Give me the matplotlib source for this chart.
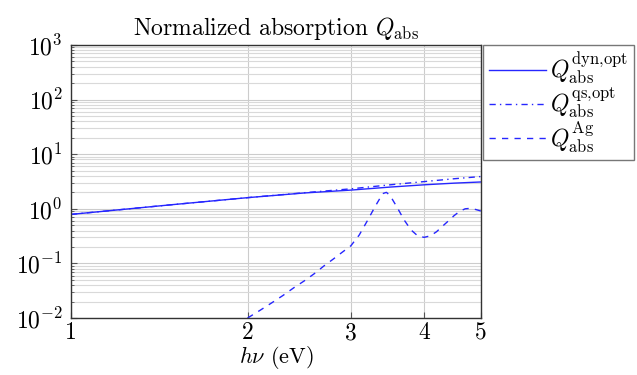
import numpy as np
import matplotlib
matplotlib.use("Agg")
import matplotlib.pyplot as plt
from matplotlib.ticker import LogLocator, FixedLocator, FixedFormatter, NullLocator, NullFormatter

plt.rcParams['font.family'] = ['cmr10', 'DejaVu Serif']
plt.rcParams['mathtext.fontset'] = 'cm'
plt.rcParams['axes.formatter.use_mathtext'] = True

# Photon energy (eV) and curves
e_dyn = [1.0, 1.5, 2.0, 2.5, 3.0, 3.5, 4.0, 4.5, 5.0]
q_dyn = [0.79, 1.2, 1.6, 1.95, 2.2, 2.5, 2.75, 2.95, 3.1]

e_qs = [1.0, 1.5, 2.0, 2.5, 3.0, 3.5, 4.0, 4.5, 5.0]
q_qs = [0.79, 1.2, 1.6, 1.97, 2.32, 2.75, 3.15, 3.55, 3.9]

e_ag = [2.0, 2.1, 2.2, 2.3, 2.4, 2.5, 2.6, 2.7, 2.8, 2.9, 3.0, 3.1, 3.2, 3.3,
        3.4, 3.45, 3.5, 3.6, 3.7, 3.8, 3.9, 4.0, 4.1, 4.2, 4.3, 4.4, 4.5, 4.6,
        4.7, 4.8, 4.9, 5.0]
q_ag = [0.010, 0.0138, 0.019, 0.026, 0.036, 0.048, 0.065, 0.09, 0.12, 0.16,
        0.21, 0.33, 0.6, 1.1, 1.9, 2.0, 1.75, 1.05, 0.62, 0.41, 0.32, 0.30,
        0.32, 0.38, 0.48, 0.6, 0.75, 0.9, 1.0, 1.02, 0.97, 0.91]

xticks = [1, 2, 3, 4, 5]
xticklabels = ['1', '2', '3', '4', '5']

labels = [r'$Q_{\mathrm{abs}}^{\mathrm{dyn}{,}\mathrm{opt}}$',
          r'$Q_{\mathrm{abs}}^{\mathrm{qs}{,}\mathrm{opt}}$',
          r'$Q_{\mathrm{abs}}^{\mathrm{Ag}}$']

fig = plt.figure(figsize=(6.37, 3.75), dpi=100)
ax = fig.add_axes([0.1115, 0.152, 0.6435, 0.728])

col = (0.15, 0.15, 1.0)
ax.plot(e_dyn, q_dyn, '-', color=col, lw=1.0, label=labels[0])
ax.plot(e_qs, q_qs, color=col, lw=1.0, dashes=(4.5, 3, 1, 3), label=labels[1])
ax.plot(e_ag, q_ag, color=col, lw=1.0, dashes=(4.5, 4.5), label=labels[2])

ax.set_xscale('log')
ax.set_yscale('log')
ax.set_xlim(1, 5)
ax.set_ylim(1e-2, 1e3)

ax.xaxis.set_major_locator(FixedLocator(xticks))
ax.xaxis.set_major_formatter(FixedFormatter(xticklabels))
ax.xaxis.set_minor_locator(NullLocator())
ax.xaxis.set_minor_formatter(NullFormatter())

ax.yaxis.set_major_locator(LogLocator(base=10, numticks=10))
ax.yaxis.set_minor_locator(LogLocator(base=10, subs=np.arange(2, 10), numticks=20))
ax.yaxis.set_minor_formatter(NullFormatter())

ax.grid(True, which='major', color='#cccccc', lw=0.8)
ax.grid(True, which='minor', axis='y', color='#d9d9d9', lw=0.8)
ax.set_axisbelow(True)

ax.tick_params(which='both', direction='in', labelsize=17, color='#555555')
ax.tick_params(which='major', length=4, pad=6)
ax.tick_params(axis='x', which='major', pad=3)
ax.tick_params(which='minor', length=2)
for s in ax.spines.values():
    s.set_color('#333333')
    s.set_linewidth(1.0)

ax.set_title(r'Normalized absorption $Q_{\mathrm{abs}}$', fontsize=17, pad=7)
ax.set_xlabel(r'$h\nu$ (eV)', fontsize=16, labelpad=0)

leg = ax.legend(loc='upper left', bbox_to_anchor=(1.006, 1.0), borderaxespad=0,
                fontsize=17, fancybox=False, edgecolor='#555555',
                handlelength=2.4, handletextpad=0.15, labelspacing=-0.05,
                borderpad=0.25)
leg.get_frame().set_linewidth(1.0)

fig.savefig('out.png', dpi=100)
